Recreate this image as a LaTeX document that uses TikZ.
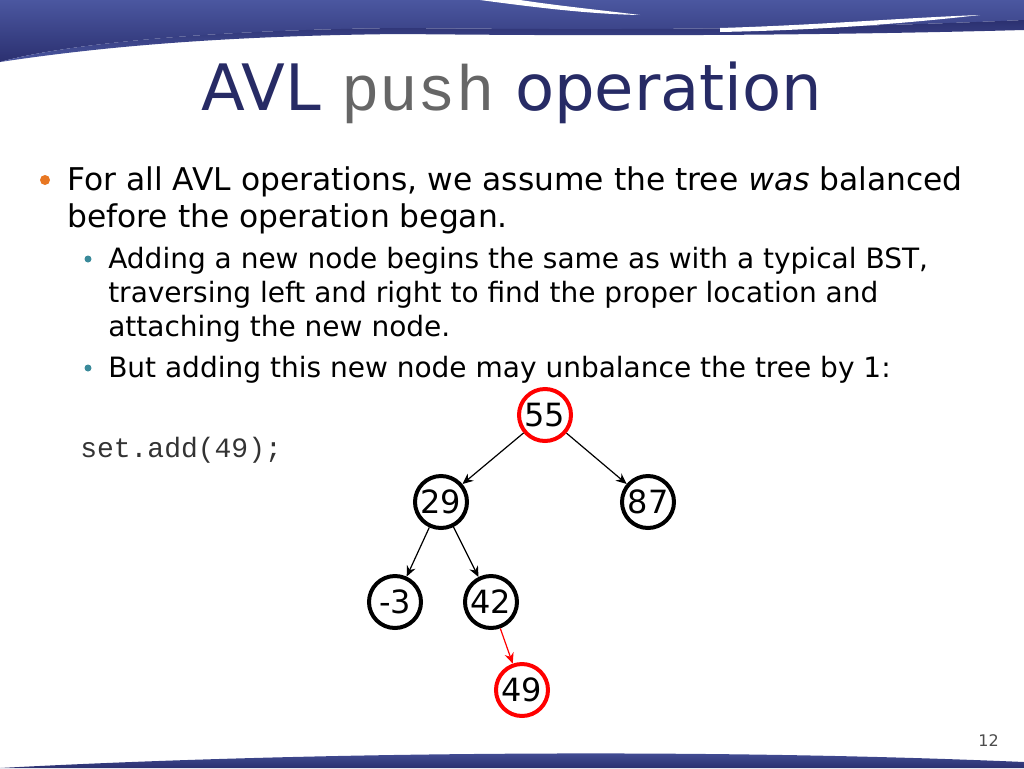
\documentclass[tikz,border=0pt]{standalone}
\usepackage{fontspec}
\setmainfont{DejaVu Sans}
\setmonofont{Liberation Mono}
\usetikzlibrary{arrows.meta}
\definecolor{navy}{HTML}{2B3070}
\definecolor{navyl}{HTML}{4B57A0}
\definecolor{bulo}{HTML}{E87722}
\definecolor{bult}{HTML}{3A8A9A}
\begin{document}
\begin{tikzpicture}[x=0.75pt,y=-0.75pt,
  tn/.style={circle,draw=black,line width=3pt,minimum size=52*0.75pt,inner sep=0pt,font=\fontsize{24}{24}\selectfont},
  rn/.style={tn,draw=red},
  ed/.style={-{Stealth[length=8pt,width=7pt]},line width=0.9pt}]
\useasboundingbox (0,0) rectangle (1024,768);
% top banner
\shade[top color=navyl,bottom color=navy] (0,0) -- (1024,0) -- (1024,20) .. controls (800,30) and (600,30) .. (400,28) .. controls (200,30) and (60,45) .. (0,62) -- cycle;
\fill[white] (480,0) -- (520,0) .. controls (560,6) and (600,10) .. (640,15) .. controls (590,14) and (540,8) .. cycle;
\shade[top color=navy,bottom color=navyl] (0,62) .. controls (60,45) and (200,30) .. (400,28) .. controls (600,30) and (800,30) .. (1024,20) -- (1024,30) .. controls (800,36) and (600,36) .. (400,34) .. controls (200,36) and (80,50) .. (0,62) -- cycle;
\fill[white] (720,28) .. controls (820,25) and (900,18) .. (980,15) .. controls (900,24) and (820,30) .. (720,32) -- cycle;
% bottom band
\shade[top color=navyl,bottom color=navy] (0,768) .. controls (300,752) and (700,748) .. (1024,762) -- (1024,768) -- cycle;
% title
\node[anchor=base,inner sep=0pt] (title) at (512,110) {\fontsize{48}{48}\selectfont\color{navy!90!black}AVL {\ttfamily\color{black!60}push} operation};
% bullets
\fill[bulo] (45,180) circle (5);
\node[anchor=base west,inner sep=0pt] (b1) at (67,190) {\fontsize{23.5}{28}\selectfont For all AVL operations, we assume the tree \emph{was} balanced};
\node[anchor=base west,inner sep=0pt] (b1b) at (67,227) {\fontsize{23.5}{28}\selectfont before the operation began.};
\fill[bult] (88,259) circle (3.5);
\node[anchor=base west,inner sep=0pt] (s1) at (108,268) {\fontsize{21}{24}\selectfont Adding a new node begins the same as with a typical BST,};
\node[anchor=base west,inner sep=0pt] (s1b) at (108,302) {\fontsize{21}{24}\selectfont traversing left and right to find the proper location and};
\node[anchor=base west,inner sep=0pt] (s1c) at (108,336) {\fontsize{21}{24}\selectfont attaching the new node.};
\fill[bult] (88,368) circle (3.5);
\node[anchor=base west,inner sep=0pt] (s2) at (108,377) {\fontsize{21}{24}\selectfont But adding this new node may unbalance the tree by 1:};
\node[anchor=base west,inner sep=0pt] (code) at (80,457) {\ttfamily\fontsize{21}{21}\selectfont\color{black!80}set.add(49);};
% tree
\node[rn] (n55) at (545,415) {55};
\node[tn] (n29) at (441,502) {29};
\node[tn] (n87) at (648,502) {87};
\node[tn] (n3) at (395,602) {-3};
\node[tn] (n42) at (491,602) {42};
\node[rn] (n49) at (522,690) {49};
\draw[ed] (n55) -- (n29);
\draw[ed] (n55) -- (n87);
\draw[ed] (n29) -- (n3);
\draw[ed] (n29) -- (n42);
\draw[ed,red] (n42) -- (n49);
\node[anchor=base east,inner sep=0pt] (pg) at (999,746) {\fontsize{12}{12}\selectfont\color{black!70}12};
\end{tikzpicture}
\end{document}
